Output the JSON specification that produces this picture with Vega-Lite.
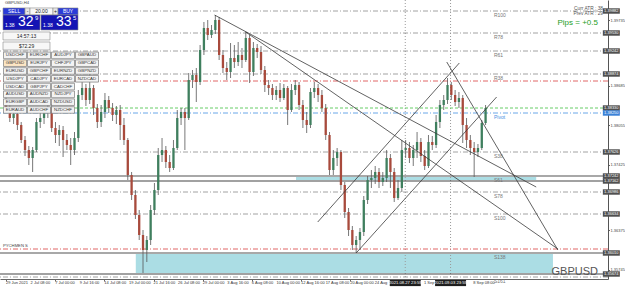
{
"$schema":"https://vega.github.io/schema/vega-lite/v6.json",
"width":608,"height":279,
"autosize":{"type":"none"},
"padding":{"left":0,"top":0,"right":17,"bottom":10},
"background":"white",
"config":{"view":{"stroke":null},"axis":{"grid":false,"labelFont":"Liberation Sans"},"text":{"font":"Liberation Sans"}},
"datasets":{
"candles":[
{"i":0,"o":1.38458,"c":1.38330,"h":1.38522,"l":1.38266},
{"i":1,"o":1.38330,"c":1.38170,"h":1.38394,"l":1.38106},
{"i":2,"o":1.38170,"c":1.38234,"h":1.38298,"l":1.38074},
{"i":3,"o":1.38234,"c":1.38058,"h":1.38266,"l":1.37978},
{"i":4,"o":1.38058,"c":1.37818,"h":1.38106,"l":1.37770},
{"i":5,"o":1.37818,"c":1.37658,"h":1.37882,"l":1.37562},
{"i":6,"o":1.37658,"c":1.37530,"h":1.37722,"l":1.37418},
{"i":7,"o":1.37530,"c":1.37658,"h":1.37706,"l":1.37306},
{"i":8,"o":1.37658,"c":1.38106,"h":1.38170,"l":1.37626},
{"i":9,"o":1.38106,"c":1.38170,"h":1.38266,"l":1.38010},
{"i":10,"o":1.38170,"c":1.38266,"h":1.38330,"l":1.38074},
{"i":11,"o":1.38266,"c":1.38330,"h":1.38394,"l":1.38170},
{"i":12,"o":1.38330,"c":1.38010,"h":1.38394,"l":1.37946},
{"i":13,"o":1.38010,"c":1.37898,"h":1.38106,"l":1.37770},
{"i":14,"o":1.37898,"c":1.37978,"h":1.38058,"l":1.37722},
{"i":15,"o":1.37978,"c":1.37818,"h":1.38042,"l":1.37546},
{"i":16,"o":1.37818,"c":1.37738,"h":1.37914,"l":1.37658},
{"i":17,"o":1.37738,"c":1.37658,"h":1.37850,"l":1.37418},
{"i":18,"o":1.37658,"c":1.37850,"h":1.37946,"l":1.37578},
{"i":19,"o":1.37850,"c":1.38538,"h":1.38618,"l":1.37786},
{"i":20,"o":1.38538,"c":1.38650,"h":1.38746,"l":1.38458},
{"i":21,"o":1.38650,"c":1.38458,"h":1.38714,"l":1.38362},
{"i":22,"o":1.38458,"c":1.38650,"h":1.38890,"l":1.38394},
{"i":23,"o":1.38650,"c":1.38330,"h":1.38698,"l":1.38218},
{"i":24,"o":1.38330,"c":1.38106,"h":1.38394,"l":1.38010},
{"i":25,"o":1.38106,"c":1.38266,"h":1.38378,"l":1.38026},
{"i":26,"o":1.38266,"c":1.38458,"h":1.38570,"l":1.38170},
{"i":27,"o":1.38458,"c":1.38330,"h":1.38522,"l":1.38250},
{"i":28,"o":1.38330,"c":1.38218,"h":1.38410,"l":1.38122},
{"i":29,"o":1.38218,"c":1.38298,"h":1.38362,"l":1.38074},
{"i":30,"o":1.38298,"c":1.38058,"h":1.38378,"l":1.37818},
{"i":31,"o":1.38058,"c":1.37818,"h":1.38170,"l":1.37738},
{"i":32,"o":1.37818,"c":1.37258,"h":1.37850,"l":1.37178},
{"i":33,"o":1.37258,"c":1.36938,"h":1.37306,"l":1.36858},
{"i":34,"o":1.36938,"c":1.36618,"h":1.37018,"l":1.36554},
{"i":35,"o":1.36618,"c":1.36298,"h":1.36698,"l":1.36218},
{"i":36,"o":1.36298,"c":1.36058,"h":1.36378,"l":1.35690},
{"i":37,"o":1.36058,"c":1.36218,"h":1.36282,"l":1.35866},
{"i":38,"o":1.36218,"c":1.36698,"h":1.36778,"l":1.36138},
{"i":39,"o":1.36698,"c":1.37018,"h":1.37130,"l":1.36618},
{"i":40,"o":1.37018,"c":1.37578,"h":1.37690,"l":1.36938},
{"i":41,"o":1.37578,"c":1.37658,"h":1.37850,"l":1.37466},
{"i":42,"o":1.37658,"c":1.37466,"h":1.37722,"l":1.37370},
{"i":43,"o":1.37466,"c":1.37370,"h":1.37578,"l":1.37306},
{"i":44,"o":1.37370,"c":1.37690,"h":1.37818,"l":1.37338},
{"i":45,"o":1.37690,"c":1.38170,"h":1.38298,"l":1.37658},
{"i":46,"o":1.38170,"c":1.38266,"h":1.38330,"l":1.38058},
{"i":47,"o":1.38266,"c":1.38170,"h":1.38330,"l":1.37658},
{"i":48,"o":1.38170,"c":1.38778,"h":1.38890,"l":1.38138},
{"i":49,"o":1.38778,"c":1.38858,"h":1.38938,"l":1.38650},
{"i":50,"o":1.38858,"c":1.38746,"h":1.38970,"l":1.38426},
{"i":51,"o":1.38746,"c":1.39258,"h":1.39338,"l":1.38698},
{"i":52,"o":1.39258,"c":1.39610,"h":1.39706,"l":1.39178},
{"i":53,"o":1.39610,"c":1.39498,"h":1.39738,"l":1.39418},
{"i":54,"o":1.39498,"c":1.39578,"h":1.39658,"l":1.39450},
{"i":55,"o":1.39578,"c":1.39738,"h":1.39818,"l":1.39514},
{"i":56,"o":1.39738,"c":1.39178,"h":1.39786,"l":1.39098},
{"i":57,"o":1.39178,"c":1.38970,"h":1.39258,"l":1.38890},
{"i":58,"o":1.38970,"c":1.38906,"h":1.39066,"l":1.38778},
{"i":59,"o":1.38906,"c":1.39130,"h":1.39370,"l":1.38810},
{"i":60,"o":1.39130,"c":1.39066,"h":1.39338,"l":1.38970},
{"i":61,"o":1.39066,"c":1.39178,"h":1.39386,"l":1.39002},
{"i":62,"o":1.39178,"c":1.39098,"h":1.39290,"l":1.38970},
{"i":63,"o":1.39098,"c":1.39450,"h":1.39546,"l":1.39066},
{"i":64,"o":1.39450,"c":1.38906,"h":1.39498,"l":1.38730},
{"i":65,"o":1.38906,"c":1.39290,"h":1.39386,"l":1.38842},
{"i":66,"o":1.39290,"c":1.39226,"h":1.39354,"l":1.39130},
{"i":67,"o":1.39226,"c":1.38938,"h":1.39322,"l":1.38874},
{"i":68,"o":1.38938,"c":1.38698,"h":1.39002,"l":1.38586},
{"i":69,"o":1.38698,"c":1.38650,"h":1.38778,"l":1.38538},
{"i":70,"o":1.38650,"c":1.38538,"h":1.38714,"l":1.38458},
{"i":71,"o":1.38538,"c":1.38618,"h":1.38682,"l":1.38458},
{"i":72,"o":1.38618,"c":1.38490,"h":1.38730,"l":1.38426},
{"i":73,"o":1.38490,"c":1.38650,"h":1.38714,"l":1.38458},
{"i":74,"o":1.38650,"c":1.38298,"h":1.38682,"l":1.38058},
{"i":75,"o":1.38298,"c":1.38618,"h":1.38714,"l":1.38266},
{"i":76,"o":1.38618,"c":1.38698,"h":1.38778,"l":1.38538},
{"i":77,"o":1.38698,"c":1.38378,"h":1.38746,"l":1.38298},
{"i":78,"o":1.38378,"c":1.38138,"h":1.38458,"l":1.38010},
{"i":79,"o":1.38138,"c":1.38058,"h":1.38266,"l":1.37930},
{"i":80,"o":1.38058,"c":1.38586,"h":1.38650,"l":1.38010},
{"i":81,"o":1.38586,"c":1.38650,"h":1.38746,"l":1.38490},
{"i":82,"o":1.38650,"c":1.38538,"h":1.38714,"l":1.38426},
{"i":83,"o":1.38538,"c":1.38330,"h":1.38618,"l":1.38266},
{"i":84,"o":1.38330,"c":1.37898,"h":1.38394,"l":1.37818},
{"i":85,"o":1.37898,"c":1.37338,"h":1.37946,"l":1.37258},
{"i":86,"o":1.37338,"c":1.37530,"h":1.37658,"l":1.37258},
{"i":87,"o":1.37530,"c":1.37626,"h":1.37690,"l":1.37402},
{"i":88,"o":1.37626,"c":1.37098,"h":1.37658,"l":1.37018},
{"i":89,"o":1.37098,"c":1.36666,"h":1.37146,"l":1.36570},
{"i":90,"o":1.36666,"c":1.36378,"h":1.36730,"l":1.36282},
{"i":91,"o":1.36378,"c":1.36138,"h":1.36442,"l":1.36058},
{"i":92,"o":1.36138,"c":1.36218,"h":1.36282,"l":1.36010},
{"i":93,"o":1.36218,"c":1.36346,"h":1.36410,"l":1.36058},
{"i":94,"o":1.36346,"c":1.36858,"h":1.36922,"l":1.36282},
{"i":95,"o":1.36858,"c":1.37178,"h":1.37242,"l":1.36794},
{"i":96,"o":1.37178,"c":1.37210,"h":1.37338,"l":1.37050},
{"i":97,"o":1.37210,"c":1.37306,"h":1.37402,"l":1.37114},
{"i":98,"o":1.37306,"c":1.37146,"h":1.37370,"l":1.37050},
{"i":99,"o":1.37146,"c":1.37210,"h":1.37306,"l":1.37082},
{"i":100,"o":1.37210,"c":1.37530,"h":1.37658,"l":1.37146},
{"i":101,"o":1.37530,"c":1.37306,"h":1.37594,"l":1.37050},
{"i":102,"o":1.37306,"c":1.36890,"h":1.37370,"l":1.36826},
{"i":103,"o":1.36890,"c":1.37050,"h":1.37178,"l":1.36858},
{"i":104,"o":1.37050,"c":1.37658,"h":1.37818,"l":1.36986},
{"i":105,"o":1.37658,"c":1.37690,"h":1.37818,"l":1.37530},
{"i":106,"o":1.37690,"c":1.37530,"h":1.37786,"l":1.37450},
{"i":107,"o":1.37530,"c":1.37658,"h":1.37738,"l":1.37402},
{"i":108,"o":1.37658,"c":1.37786,"h":1.37946,"l":1.37530},
{"i":109,"o":1.37786,"c":1.37562,"h":1.37850,"l":1.37466},
{"i":110,"o":1.37562,"c":1.37402,"h":1.37658,"l":1.37338},
{"i":111,"o":1.37402,"c":1.37786,"h":1.37898,"l":1.37370},
{"i":112,"o":1.37786,"c":1.37738,"h":1.37882,"l":1.37658},
{"i":113,"o":1.37738,"c":1.38106,"h":1.38218,"l":1.37690},
{"i":114,"o":1.38106,"c":1.38378,"h":1.38458,"l":1.38010},
{"i":115,"o":1.38378,"c":1.38458,"h":1.38538,"l":1.38298},
{"i":116,"o":1.38458,"c":1.38698,"h":1.38810,"l":1.38394},
{"i":117,"o":1.38698,"c":1.38538,"h":1.38746,"l":1.38458},
{"i":118,"o":1.38538,"c":1.38426,"h":1.38618,"l":1.38362},
{"i":119,"o":1.38426,"c":1.38490,"h":1.38586,"l":1.38330},
{"i":120,"o":1.38490,"c":1.38058,"h":1.38538,"l":1.37770},
{"i":121,"o":1.38058,"c":1.37818,"h":1.38170,"l":1.37690},
{"i":122,"o":1.37818,"c":1.37690,"h":1.37898,"l":1.37578},
{"i":123,"o":1.37690,"c":1.37626,"h":1.37786,"l":1.37226},
{"i":124,"o":1.37626,"c":1.37690,"h":1.37754,"l":1.37546},
{"i":125,"o":1.37690,"c":1.38090,"h":1.38138,"l":1.37658},
{"i":126,"o":1.38090,"c":1.38330,"h":1.38378,"l":1.38058}
],
"levels":[
{"name":"R100","p":1.39882,"kind":"fib","lab":"R100"},
{"name":"R78","p":1.39530,"kind":"fib","lab":"R78"},
{"name":"R61","p":1.39242,"kind":"fib","lab":"R61"},
{"name":"R38","p":1.38874,"kind":"fib","lab":"R38"},
{"name":"red1","p":1.38762,"kind":"red","lab":""},
{"name":"bid","p":1.38330,"kind":"green","lab":""},
{"name":"Pivot","p":1.38250,"kind":"blue","lab":"Pivot"},
{"name":"S38","p":1.37626,"kind":"fib","lab":"S38"},
{"name":"S61","p":1.37242,"kind":"band","lab":"S61"},
{"name":"S61b","p":1.37162,"kind":"dark","lab":""},
{"name":"S78","p":1.36986,"kind":"fib","lab":"S78"},
{"name":"S100","p":1.36634,"kind":"fib","lab":"S100"},
{"name":"red2","p":1.36074,"kind":"red","lab":""},
{"name":"S138","p":1.36010,"kind":"band","lab":"S138"},
{"name":"low","p":1.35674,"kind":"dark","lab":""},
{"name":"S161","p":1.35626,"kind":"fib","lab":"S161"}
],
"zones":[
{"k1":34.1,"k2":143.7,"p1":1.35994,"p2":1.35690},
{"k1":76.2,"k2":139.3,"p1":1.37242,"p2":1.37178}
],
"trend":[
{"k1":54.8,"p1":1.39818,"k2":139.3,"p2":1.37066},
{"k1":63.0,"p1":1.39546,"k2":145.0,"p2":1.36074},
{"k1":115.8,"p1":1.39066,"k2":145.0,"p2":1.36058},
{"k1":81.9,"p1":1.36506,"k2":119.1,"p2":1.39050},
{"k1":92.0,"p1":1.36010,"k2":128.9,"p2":1.38506}
],
"marks":[
{"k":104.9,"lab":"2021.08.27 23:59"},
{"k":116.8,"lab":"2021.09.03 23:59"}
],
"tlabels":[
{"k":0,"lab":"29 Jun 2021"},{"k":6.46,"lab":"2 Jul 08:00"},{"k":12.92,"lab":"7 Jul 00:00"},{"k":19.38,"lab":"9 Jul 16:00"},
{"k":25.84,"lab":"14 Jul 08:00"},{"k":32.3,"lab":"19 Jul 00:00"},{"k":38.76,"lab":"21 Jul 16:00"},{"k":45.22,"lab":"26 Jul 08:00"},
{"k":51.68,"lab":"29 Jul 00:00"},{"k":58.14,"lab":"3 Aug 16:00"},{"k":64.6,"lab":"6 Aug 08:00"},{"k":71.06,"lab":"10 Aug 00:00"},
{"k":77.52,"lab":"12 Aug 16:00"},{"k":83.98,"lab":"17 Aug 08:00"},{"k":90.44,"lab":"20 Aug 00:00"},{"k":96.9,"lab":"24 Aug"},
{"k":109.82,"lab":"1 Sep"},{"k":122.74,"lab":"8 Sep 08:00"}
],
"buttons":[
{"col":0,"row":0,"sym":"USDCHF"},{"col":1,"row":0,"sym":"EURCHF"},{"col":2,"row":0,"sym":"AUDJPY"},{"col":3,"row":0,"sym":"GBPAUD"},
{"col":0,"row":1,"sym":"GBPUSD","sel":true},{"col":1,"row":1,"sym":"EURJPY"},{"col":2,"row":1,"sym":"CHFJPY"},{"col":3,"row":1,"sym":"GBPCAD"},
{"col":0,"row":2,"sym":"EURUSD"},{"col":1,"row":2,"sym":"GBPCHF"},{"col":2,"row":2,"sym":"EURNZD"},{"col":3,"row":2,"sym":"GBPNZD"},
{"col":0,"row":3,"sym":"USDJPY"},{"col":1,"row":3,"sym":"CADJPY"},{"col":2,"row":3,"sym":"EURCAD"},{"col":3,"row":3,"sym":"NZDCAD"},
{"col":0,"row":4,"sym":"USDCAD"},{"col":1,"row":4,"sym":"GBPJPY"},{"col":2,"row":4,"sym":"CADCHF"},
{"col":0,"row":5,"sym":"AUDUSD"},{"col":1,"row":5,"sym":"AUDNZD"},{"col":2,"row":5,"sym":"NZDJPY"},
{"col":0,"row":6,"sym":"EURGBP"},{"col":1,"row":6,"sym":"AUDCAD"},{"col":2,"row":6,"sym":"NZDUSD"},
{"col":0,"row":7,"sym":"EURAUD"},{"col":1,"row":7,"sym":"AUDCHF"},{"col":2,"row":7,"sym":"NZDCHF"}
],
"panel":[
{"c1":-0.5,"c2":0.417,"r1":-6.08,"r2":-5.18,"role":"btnblue"},
{"c1":0.417,"c2":0.625,"r1":-6.08,"r2":-5.18,"role":"btnwhite"},
{"c1":0.625,"c2":1.583,"r1":-6.08,"r2":-5.18,"role":"info"},
{"c1":1.583,"c2":1.792,"r1":-6.08,"r2":-5.18,"role":"btnwhite"},
{"c1":1.792,"c2":2.625,"r1":-6.08,"r2":-5.18,"role":"btnblue"},
{"c1":-0.5,"c2":1.042,"r1":-5.18,"r2":-3.256,"role":"bigblue"},
{"c1":1.083,"c2":2.625,"r1":-5.18,"r2":-3.256,"role":"bigblue"},
{"c1":-0.5,"c2":1.458,"r1":-3.0,"r2":-1.974,"role":"info"},
{"c1":-0.5,"c2":1.458,"r1":-1.718,"r2":-0.692,"role":"info"}
],
"ptext":[
{"c":-0.04,"r":-5.63,"t":"SELL","role":"w5c"},
{"c":0.52,"r":-5.63,"t":"-","role":"d5c"},
{"c":1.1,"r":-5.63,"t":"20.00","role":"d5c"},
{"c":1.69,"r":-5.63,"t":"+","role":"d5c"},
{"c":2.21,"r":-5.63,"t":"BUY","role":"w5c"},
{"c":-0.42,"r":-3.9,"t":"1.38","role":"w5l"},
{"c":1.167,"r":-3.9,"t":"1.38","role":"w5l"},
{"c":0.125,"r":-4.22,"t":"32","role":"big"},
{"c":1.71,"r":-4.22,"t":"33","role":"big"},
{"c":0.83,"r":-4.79,"t":"9","role":"sup"},
{"c":2.42,"r":-4.79,"t":"5","role":"sup"},
{"c":0.48,"r":-2.49,"t":"14:57:13","role":"d5c"},
{"c":0.48,"r":-1.21,"t":"$72.29","role":"d5c"},
{"c":-0.42,"r":-6.72,"t":"GBPUSD,H4","role":"d4l"},
{"c":-0.5,"r":24.44,"t":"PYCHMEN S","role":"d4l"},
{"c":24.5,"r":-6.0,"t":"Curr ATR : 38","role":"g5r"},
{"c":24.5,"r":-5.25,"t":"Prev ATR : 29","role":"g5r"},
{"c":24.29,"r":-4.2,"t":"Pips = +0.5","role":"pips"},
{"c":24.29,"r":27.77,"t":"GBPUSD","role":"wm"}
]
},
"layer":[
{"layer":[
{"data":{"name":"zones"},"mark":{"type":"rect","color":"#abdde4"},
 "encoding":{
  "x":{"field":"k1","type":"quantitative","title":null,"scale":{"domain":[-0.26,156.85],"nice":false,"zero":false},
   "axis":{"orient":"bottom","values":[0,6.46,12.92,19.38,25.84,32.3,38.76,45.22,51.68,58.14,64.6,71.06,77.52,83.98,90.44,96.9,103.36,109.82,116.28,122.74],
   "labels":false,"tickSize":2,"tickColor":"#666","domainColor":"#666","title":null}},
  "x2":{"field":"k2"},
  "y":{"field":"p1","type":"quantitative","title":null,"scale":{"domain":[1.35594,1.40058],"nice":false,"zero":false},
   "axis":{"orient":"right","values":[1.39945,1.39735,1.39315,1.38685,1.38475,1.38055,1.37845,1.37425,1.36795,1.36375,1.36165,1.35745],
   "format":".5f","labelFontSize":4,"labelColor":"#444","labelPadding":0.5,"tickSize":1.5,"tickColor":"#666","domainColor":"#555","labelOverlap":false,"labelBound":false,"title":null}},
  "y2":{"field":"p2"}}},
{"data":{"name":"marks"},"mark":{"type":"rule","color":"#9a9a9a","strokeDash":[1,2],"strokeWidth":1},
 "encoding":{"x":{"field":"k","type":"quantitative","title":null}}},
{"data":{"name":"levels"},"transform":[{"filter":"datum.kind=='fib'"}],"mark":{"type":"rule","color":"#8a8a8a","strokeDash":[5,2,1,2],"strokeWidth":0.8},
 "encoding":{"y":{"field":"p","type":"quantitative","title":null}}},
{"data":{"name":"levels"},"transform":[{"filter":"datum.kind=='red'"}],"mark":{"type":"rule","color":"#e06666","strokeDash":[5,2,1,2],"strokeWidth":1},
 "encoding":{"y":{"field":"p","type":"quantitative","title":null}}},
{"data":{"name":"levels"},"transform":[{"filter":"datum.kind=='green'"}],"mark":{"type":"rule","color":"#66cc66","strokeDash":[3,2],"strokeWidth":1},
 "encoding":{"y":{"field":"p","type":"quantitative","title":null}}},
{"data":{"name":"levels"},"transform":[{"filter":"datum.kind=='blue'"}],"mark":{"type":"rule","color":"#6aa7e8","strokeDash":[5,2,1,2],"strokeWidth":1},
 "encoding":{"y":{"field":"p","type":"quantitative","title":null}}},
{"data":{"name":"levels"},"transform":[{"filter":"datum.kind=='band'"}],"mark":{"type":"rule","color":"#a8a8a8","strokeWidth":2.2},
 "encoding":{"y":{"field":"p","type":"quantitative","title":null}}},
{"data":{"name":"levels"},"transform":[{"filter":"datum.kind=='dark'"}],"mark":{"type":"rule","color":"#444444","strokeWidth":1.2},
 "encoding":{"y":{"field":"p","type":"quantitative","title":null}}},
{"data":{"name":"candles"},"mark":{"type":"rule","color":"#555555","strokeWidth":0.8},
 "encoding":{"x":{"field":"i","type":"quantitative","title":null},"y":{"field":"l","type":"quantitative","title":null},"y2":{"field":"h"}}},
{"data":{"name":"candles"},"mark":{"type":"bar","size":2.3},
 "encoding":{"x":{"field":"i","type":"quantitative","title":null},"y":{"field":"o","type":"quantitative","title":null},"y2":{"field":"c"},
  "color":{"condition":{"test":"datum.c < datum.o","value":"#a84a3c"},"value":"#3f7f5e"}}},
{"data":{"name":"trend"},"mark":{"type":"rule","color":"#3a3a3a","strokeWidth":0.8},
 "encoding":{"x":{"field":"k1","type":"quantitative","title":null},"y":{"field":"p1","type":"quantitative","title":null},"x2":{"field":"k2"},"y2":{"field":"p2"}}},
{"data":{"name":"levels"},"transform":[{"filter":"datum.lab != ''"}],"mark":{"type":"text","align":"left","baseline":"middle","dy":3.5,"fontSize":5},
 "encoding":{"x":{"datum":128.2},"y":{"field":"p","type":"quantitative","title":null},"text":{"field":"lab"},
  "color":{"condition":{"test":"datum.kind=='blue'","value":"#4a90e2"},"value":"#777777"}}},
{"data":{"name":"levels"},"transform":[{"filter":"datum.kind != 'red' && datum.name != 'S161'"}],"mark":{"type":"point","shape":"M-1,-0.32H1V0.32H-1Z","size":289,"filled":true,"opacity":1,"strokeWidth":0},
 "encoding":{"x":{"datum":159.04},"y":{"field":"p","type":"quantitative","title":null},
  "color":{"condition":{"test":"datum.kind=='blue'","value":"#3b82d8"},"value":"#505050"}}},
{"data":{"name":"levels"},"transform":[{"filter":"datum.kind != 'red' && datum.name != 'S161'"}],"mark":{"type":"text","align":"center","baseline":"middle","fontSize":4,"color":"white"},
 "encoding":{"x":{"datum":159.04},"y":{"field":"p","type":"quantitative","title":null},"text":{"field":"p","type":"quantitative","format":".5f"}}},
{"data":{"name":"tlabels"},"mark":{"type":"text","align":"left","baseline":"middle","fontSize":4,"color":"#333"},
 "encoding":{"x":{"field":"k","type":"quantitative","title":null},"y":{"datum":1.3553},"text":{"field":"lab"}}},
{"data":{"name":"marks"},"mark":{"type":"point","shape":"M-1,-0.2H1V0.2H-1Z","size":961,"filled":true,"opacity":1,"color":"#1e1e1e","strokeWidth":0},
 "encoding":{"x":{"field":"k","type":"quantitative","title":null},"y":{"datum":1.3553}}},
{"data":{"name":"marks"},"mark":{"type":"text","align":"center","baseline":"middle","fontSize":4.2,"color":"white"},
 "encoding":{"x":{"field":"k","type":"quantitative","title":null},"y":{"datum":1.3553},"text":{"field":"lab"}}}
]},
{"layer":[
{"data":{"name":"panel"},"mark":{"type":"rect","stroke":"#8a8a8a","strokeWidth":0.6},
 "encoding":{"x":{"field":"c1","type":"quantitative","scale":{"domain":[-0.625,24.708],"nice":false,"zero":false},"axis":null},"x2":{"field":"c2"},
  "y":{"field":"r1","type":"quantitative","scale":{"domain":[-7.1,28.67],"nice":false,"zero":false,"reverse":true},"axis":null},"y2":{"field":"r2"},
  "color":{"field":"role","type":"nominal","scale":{"domain":["btnblue","bigblue","btnwhite","info"],"range":["#2b3bd8","#1414b4","#e6e6e6","#f7f7f7"]},"legend":null}}},
{"data":{"name":"buttons"},"mark":{"type":"point","shape":"M-1,-0.287H1V0.287H-1Z","size":529,"filled":true,"opacity":1,"stroke":"#7a7a7a","strokeWidth":0.7},
 "encoding":{"x":{"field":"col","type":"quantitative","axis":null},"y":{"field":"row","type":"quantitative","axis":null},
  "fill":{"condition":{"test":"datum.sel","value":"#fde6c4"},"value":"#f3f3f3"}}},
{"data":{"name":"buttons"},"mark":{"type":"text","align":"center","baseline":"middle","fontSize":4.4,"color":"#333"},
 "encoding":{"x":{"field":"col","type":"quantitative","axis":null},"y":{"field":"row","type":"quantitative","axis":null},"text":{"field":"sym"}}},
{"data":{"name":"ptext"},"transform":[{"filter":"datum.role=='w5c'"}],"mark":{"type":"text","align":"center","baseline":"middle","fontSize":5,"color":"white"},
 "encoding":{"x":{"field":"c","type":"quantitative","axis":null},"y":{"field":"r","type":"quantitative","axis":null},"text":{"field":"t"}}},
{"data":{"name":"ptext"},"transform":[{"filter":"datum.role=='d5c'"}],"mark":{"type":"text","align":"center","baseline":"middle","fontSize":5,"color":"#222"},
 "encoding":{"x":{"field":"c","type":"quantitative","axis":null},"y":{"field":"r","type":"quantitative","axis":null},"text":{"field":"t"}}},
{"data":{"name":"ptext"},"transform":[{"filter":"datum.role=='w5l'"}],"mark":{"type":"text","align":"left","baseline":"middle","fontSize":5,"color":"white"},
 "encoding":{"x":{"field":"c","type":"quantitative","axis":null},"y":{"field":"r","type":"quantitative","axis":null},"text":{"field":"t"}}},
{"data":{"name":"ptext"},"transform":[{"filter":"datum.role=='big'"}],"mark":{"type":"text","align":"left","baseline":"middle","fontSize":14,"color":"white"},
 "encoding":{"x":{"field":"c","type":"quantitative","axis":null},"y":{"field":"r","type":"quantitative","axis":null},"text":{"field":"t"}}},
{"data":{"name":"ptext"},"transform":[{"filter":"datum.role=='sup'"}],"mark":{"type":"text","align":"left","baseline":"middle","fontSize":6,"color":"white"},
 "encoding":{"x":{"field":"c","type":"quantitative","axis":null},"y":{"field":"r","type":"quantitative","axis":null},"text":{"field":"t"}}},
{"data":{"name":"ptext"},"transform":[{"filter":"datum.role=='d4l'"}],"mark":{"type":"text","align":"left","baseline":"middle","fontSize":4.2,"color":"#444"},
 "encoding":{"x":{"field":"c","type":"quantitative","axis":null},"y":{"field":"r","type":"quantitative","axis":null},"text":{"field":"t"}}},
{"data":{"name":"ptext"},"transform":[{"filter":"datum.role=='g5r'"}],"mark":{"type":"text","align":"right","baseline":"middle","fontSize":4.8,"color":"#555"},
 "encoding":{"x":{"field":"c","type":"quantitative","axis":null},"y":{"field":"r","type":"quantitative","axis":null},"text":{"field":"t"}}},
{"data":{"name":"ptext"},"transform":[{"filter":"datum.role=='pips'"}],"mark":{"type":"text","align":"right","baseline":"middle","fontSize":8,"color":"#1e9e1e"},
 "encoding":{"x":{"field":"c","type":"quantitative","axis":null},"y":{"field":"r","type":"quantitative","axis":null},"text":{"field":"t"}}},
{"data":{"name":"ptext"},"transform":[{"filter":"datum.role=='wm'"}],"mark":{"type":"text","align":"right","baseline":"middle","fontSize":11,"color":"#555"},
 "encoding":{"x":{"field":"c","type":"quantitative","axis":null},"y":{"field":"r","type":"quantitative","axis":null},"text":{"field":"t"}}}
]}
],
"resolve":{"scale":{"x":"independent","y":"independent"}}
}
